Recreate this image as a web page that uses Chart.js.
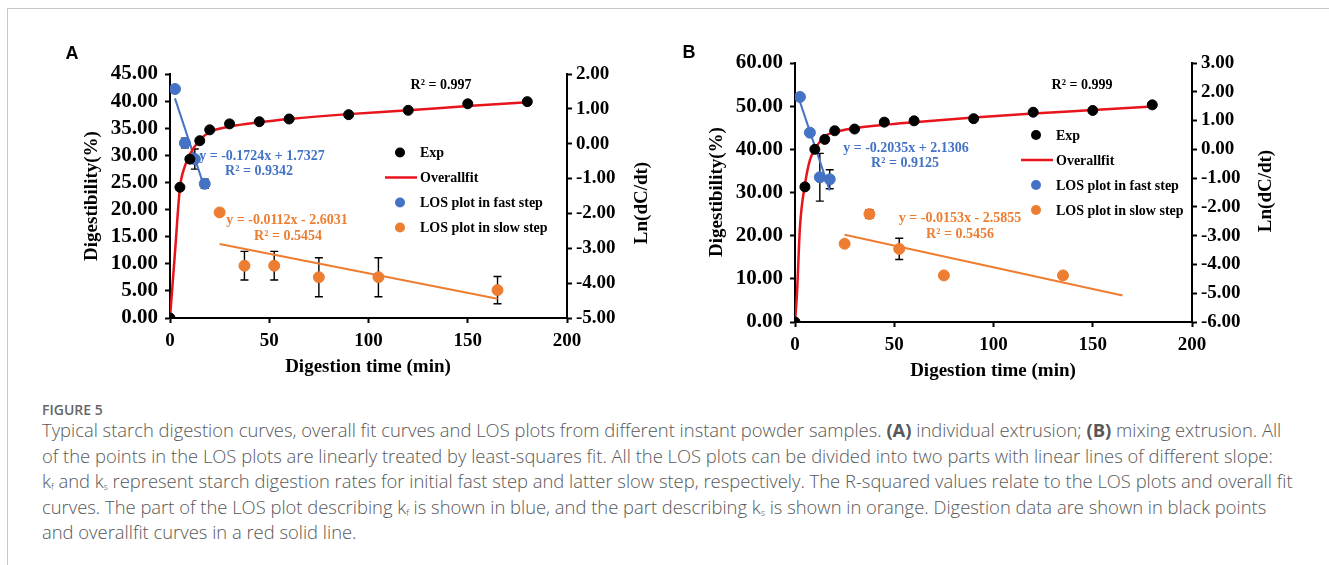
<!DOCTYPE html>
<html>
<head>
<meta charset="utf-8">
<script src="https://cdn.jsdelivr.net/npm/chart.js@4.4.1/dist/chart.umd.min.js"></script>
<style>
  html, body { margin: 0; padding: 0; background: #fff; }
  body { width: 1329px; height: 565px; position: relative; overflow: hidden; }
  .frame { position: absolute; left: 7px; top: 8px; right: 0; bottom: 0;
           border-left: 1px solid #c8c8c8; border-top: 1px solid #c8c8c8; }
  .panel { position: absolute; }
  .fig { position: absolute; left: 42px; top: 400px; font: 600 14px/20px "Open Sans", sans-serif;
         color: #666; }
  .cap { position: absolute; left: 42px; top: 417px; font: 300 18.4px/25.5px "Open Sans", sans-serif;
         color: #585858; white-space: nowrap; }
  .cap b { font-weight: 700; }
  .cap sub { font-size: 9px; vertical-align: -2px; line-height: 0; }
</style>
</head>
<body>
<div class="frame"></div>
<div class="panel" style="left:40px;top:30px;width:640px;height:360px"><canvas id="chartA"></canvas></div>
<div class="panel" style="left:665px;top:30px;width:650px;height:360px"><canvas id="chartB"></canvas></div>
<div class="fig">FIGURE 5</div>
<div class="cap">
  <div>Typical starch digestion curves, overall fit curves and LOS plots from different instant powder samples. <b>(A)</b> individual extrusion; <b>(B)</b> mixing extrusion. All</div>
  <div>of the points in the LOS plots are linearly treated by least-squares fit. All the LOS plots can be divided into two parts with linear lines of different slope:</div>
  <div>k<sub>f</sub> and k<sub>s</sub> represent starch digestion rates for initial fast step and latter slow step, respectively. The R-squared values relate to the LOS plots and overall fit</div>
  <div>curves. The part of the LOS plot describing k<sub>f</sub> is shown in blue, and the part describing k<sub>s</sub> is shown in orange. Digestion data are shown in black points</div>
  <div>and overallfit curves in a red solid line.</div>
</div>
<script>
// ---- Panel A (individual extrusion) ----
const expTimeA = [0, 5, 10, 15, 20, 30, 45, 60, 90, 120, 150, 180];
const expA = [0, 24.1, 29.3, 32.7, 34.7, 35.8, 36.2, 36.7, 37.5, 38.3, 39.5, 39.9];
const fitTimeA = [0, 2.5, 5, 7.5, 10, 15, 20, 30, 45, 60, 90, 120, 150, 180];
const fitA = [0, 12, 24, 28, 30.2, 32.8, 34.3, 35.3, 36.1, 36.7, 37.6, 38.3, 39.1, 39.8];
const fastTimeA = [2.5, 7.5, 12.5, 17.5];
const fastA = [1.57, 0.02, -0.44, -1.15];
const fastErrA = [0, 0.14, 0.29, 0.13];
const fastLineTimeA = [2.5, 17.5];
const fastLineA = [1.30, -1.28];
const slowTimeA = [25, 37.5, 52.5, 75, 105, 165];
const slowA = [-1.97, -3.50, -3.50, -3.83, -3.83, -4.20];
const slowErrA = [0, 0.41, 0.41, 0.56, 0.56, 0.39];
const slowLineTimeA = [25, 165];
const slowLineA = [-2.88, -4.45];

// ---- Panel B (mixing extrusion) ----
const expTimeB = [0, 5, 10, 15, 20, 30, 45, 60, 90, 120, 150, 180];
const expB = [0, 31.3, 40.0, 42.3, 44.3, 44.7, 46.3, 46.6, 47.1, 48.6, 49.0, 50.3];
const fitTimeB = [0, 1, 2.5, 5, 7.5, 10, 15, 20, 30, 45, 60, 90, 120, 150, 180];
const fitB = [0, 6.6, 22, 31.8, 37.5, 40.0, 43.0, 44.0, 44.9, 45.7, 46.3, 47.4, 48.3, 49.1, 49.9];
const fastTimeB = [2.5, 7.5, 12.5, 17.5];
const fastB = [1.82, 0.58, -0.97, -1.04];
const fastErrB = [0, 0, 0.83, 0.33];
const fastLineTimeB = [2.5, 17.5];
const fastLineB = [1.65, -1.43];
const slowTimeB = [25, 37.5, 52.5, 75, 135];
const slowB = [-3.28, -2.25, -3.46, -4.38, -4.38];
const slowErrB = [0, 0.15, 0.37, 0, 0];
const slowLineTimeB = [25, 165];
const slowLineB = [-2.97, -5.08];

const RED = '#e8141c', BLUE = '#4472c4', ORANGE = '#ed7d31';
const SERIF = '"Liberation Serif", "Times New Roman", serif';

function pts(xs, ys) {
  return xs.map((x, i) => ({ x: x, y: ys[i] }));
}

// draws error bars, texts, legend, titles on top of the chart
function makeOverlay(p) {
  return {
    id: 'overlay',
    beforeDatasetsDraw(chart) {
      const ctx = chart.ctx;
      const xs = chart.scales.x, ys = chart.scales.y1;
      ctx.save();
      ctx.strokeStyle = '#000';
      ctx.lineWidth = 1.4;
      p.errors.forEach(set => {
        set.t.forEach((t, i) => {
          const e = set.err[i];
          if (!e) return;
          const px = xs.getPixelForValue(t);
          const y0 = ys.getPixelForValue(set.v[i] + e);
          const y1 = ys.getPixelForValue(set.v[i] - e);
          ctx.beginPath();
          ctx.moveTo(px, y0); ctx.lineTo(px, y1);
          ctx.moveTo(px - 4, y0); ctx.lineTo(px + 4, y0);
          ctx.moveTo(px - 4, y1); ctx.lineTo(px + 4, y1);
          ctx.stroke();
        });
      });
      ctx.restore();
    },
    afterDraw(chart) {
      const ctx = chart.ctx;
      const ox = p.offset[0], oy = p.offset[1];
      ctx.save();
      ctx.textBaseline = 'middle';
      ctx.textAlign = 'center';

      // panel letter
      ctx.fillStyle = '#000';
      ctx.font = 'bold 18px "Liberation Sans", Arial, sans-serif';
      ctx.fillText(p.letter[0], p.letter[1] - ox, p.letter[2] - oy);

      // equations and R2
      p.notes.forEach(n => {
        ctx.fillStyle = n.color;
        ctx.font = 'bold 14px ' + SERIF;
        ctx.fillText(n.text, n.x - ox, n.y - oy);
      });

      // axis titles
      ctx.fillStyle = '#000';
      ctx.font = 'bold 19px ' + SERIF;
      ctx.fillText('Digestion time (min)', p.xTitle[0] - ox, p.xTitle[1] - oy);
      [[p.yTitle, 'Digestibility(%)'], [p.y1Title, 'Ln(dC/dt)']].forEach(([pos, txt]) => {
        ctx.save();
        ctx.translate(pos[0] - ox, pos[1] - oy);
        ctx.rotate(-Math.PI / 2);
        ctx.fillText(txt, 0, 0);
        ctx.restore();
      });

      // legend
      const lx = p.legend[0] - ox, ly = p.legend[1] - oy, gap = p.legend[2];
      const tx = lx + 20;
      ctx.textAlign = 'left';
      ctx.font = 'bold 14px ' + SERIF;
      const items = [
        { label: 'Exp', color: '#000', kind: 'dot' },
        { label: 'Overallfit', color: RED, kind: 'line' },
        { label: 'LOS plot in fast step', color: BLUE, kind: 'dot' },
        { label: 'LOS plot in slow step', color: ORANGE, kind: 'dot' }
      ];
      items.forEach((it, i) => {
        const y = ly + i * gap;
        if (it.kind === 'dot') {
          ctx.fillStyle = it.color;
          ctx.beginPath();
          ctx.arc(lx, y, 5, 0, Math.PI * 2);
          ctx.fill();
        } else {
          ctx.strokeStyle = it.color;
          ctx.lineWidth = 2.5;
          ctx.beginPath();
          ctx.moveTo(lx - 15, y); ctx.lineTo(lx + 17, y);
          ctx.stroke();
        }
        ctx.fillStyle = '#000';
        ctx.fillText(it.label, tx, y + 1);
      });
      ctx.restore();
    }
  };
}

function axisStyle(extra) {
  return Object.assign({
    border: { display: true, color: '#000', width: 2 },
    grid: { drawOnChartArea: false, drawTicks: true, tickLength: 5, tickWidth: 2, tickColor: '#000' },
    ticks: { color: '#000', font: { family: SERIF, size: 19, weight: 'bold' } }
  }, extra);
}

function renderPanel(canvasId, p) {
  const ctx = document.getElementById(canvasId).getContext('2d');
  return new Chart(ctx, {
    type: 'scatter',
    data: {
      datasets: [
        { data: pts(p.fitTime, p.fit), yAxisID: 'y', showLine: true, borderColor: RED, borderWidth: 2.5,
          pointRadius: 0, cubicInterpolationMode: 'monotone', order: 3 },
        { data: pts(p.fastLineTime, p.fastLine), yAxisID: 'y1', showLine: true, borderColor: BLUE,
          borderWidth: 2, pointRadius: 0, order: 3 },
        { data: pts(p.slowLineTime, p.slowLine), yAxisID: 'y1', showLine: true, borderColor: ORANGE,
          borderWidth: 2, pointRadius: 0, order: 3 },
        { data: pts(p.expTime, p.exp), yAxisID: 'y', backgroundColor: '#000', borderColor: '#000',
          pointRadius: 5, order: 1 },
        { data: pts(p.fastTime, p.fast), yAxisID: 'y1', backgroundColor: BLUE, borderColor: BLUE,
          pointRadius: 5.5, order: 1 },
        { data: pts(p.slowTime, p.slow), yAxisID: 'y1', backgroundColor: ORANGE, borderColor: ORANGE,
          pointRadius: 5.5, order: 1 }
      ]
    },
    options: {
      responsive: true,
      maintainAspectRatio: false,
      animation: false,
      layout: { padding: { top: p.area.top, left: 0, right: 0, bottom: 0 } },
      plugins: { legend: { display: false }, tooltip: { enabled: false } },
      scales: {
        x: axisStyle({
          type: 'linear', min: 0, max: 200,
          afterFit: s => { s.height = p.area.xh; },
          ticks: { stepSize: 50, color: '#000', padding: 7, maxRotation: 0, autoSkip: false,
                   font: { family: SERIF, size: 19, weight: 'bold' } }
        }),
        y: axisStyle({
          position: 'left', min: p.yRange[0], max: p.yRange[1],
          afterFit: s => { s.width = p.area.left; },
          ticks: { stepSize: p.yRange[2], padding: 7, color: '#000', autoSkip: false,
                   font: { family: SERIF, size: 21, weight: 'bold' },
                   callback: v => v.toFixed(2) }
        }),
        y1: axisStyle({
          position: 'right', min: p.y1Range[0], max: p.y1Range[1],
          afterFit: s => { s.width = p.area.y1w; },
          ticks: { stepSize: 1, padding: 4, color: '#000', autoSkip: false,
                   font: { family: SERIF, size: 19, weight: 'bold' },
                   callback: v => v.toFixed(2) }
        })
      }
    },
    plugins: [makeOverlay(p)]
  });
}

renderPanel('chartA', {
  expTime: expTimeA, exp: expA, fitTime: fitTimeA, fit: fitA,
  fastTime: fastTimeA, fast: fastA, fastLineTime: fastLineTimeA, fastLine: fastLineA,
  slowTime: slowTimeA, slow: slowA, slowLineTime: slowLineTimeA, slowLine: slowLineA,
  errors: [{ t: fastTimeA, v: fastA, err: fastErrA }, { t: slowTimeA, v: slowA, err: slowErrA }],
  yRange: [0, 45, 5], y1Range: [-5, 2],
  area: { left: 130, top: 44, y1w: 113, xh: 72 },
  offset: [40, 30],
  letter: ['A', 72, 54],
  xTitle: [368, 367], yTitle: [92, 196], y1Title: [642, 203],
  legend: [400, 152.5, 25],
  notes: [
    { text: 'R\u00b2 = 0.997', x: 441, y: 85, color: '#000' },
    { text: 'y = -0.1724x + 1.7327', x: 262, y: 156, color: BLUE },
    { text: 'R\u00b2 = 0.9342', x: 259, y: 171, color: BLUE },
    { text: 'y = -0.0112x - 2.6031', x: 287, y: 220, color: ORANGE },
    { text: 'R\u00b2 = 0.5454', x: 288, y: 236, color: ORANGE }
  ]
});

renderPanel('chartB', {
  expTime: expTimeB, exp: expB, fitTime: fitTimeB, fit: fitB,
  fastTime: fastTimeB, fast: fastB, fastLineTime: fastLineTimeB, fastLine: fastLineB,
  slowTime: slowTimeB, slow: slowB, slowLineTime: slowLineTimeB, slowLine: slowLineB,
  errors: [{ t: fastTimeB, v: fastB, err: fastErrB }, { t: slowTimeB, v: slowB, err: slowErrB }],
  yRange: [0, 60, 10], y1Range: [-6, 3],
  area: { left: 130, top: 33, y1w: 123, xh: 68 },
  offset: [665, 30],
  letter: ['B', 689, 53],
  xTitle: [993, 371], yTitle: [717, 192], y1Title: [1266, 191],
  legend: [1036, 135, 25],
  notes: [
    { text: 'R\u00b2 = 0.999', x: 1082, y: 85, color: '#000' },
    { text: 'y = -0.2035x + 2.1306', x: 906, y: 148, color: BLUE },
    { text: 'R\u00b2 = 0.9125', x: 905, y: 163, color: BLUE },
    { text: 'y = -0.0153x - 2.5855', x: 960, y: 218, color: ORANGE },
    { text: 'R\u00b2 = 0.5456', x: 960, y: 234, color: ORANGE }
  ]
});
</script>
</body>
</html>
